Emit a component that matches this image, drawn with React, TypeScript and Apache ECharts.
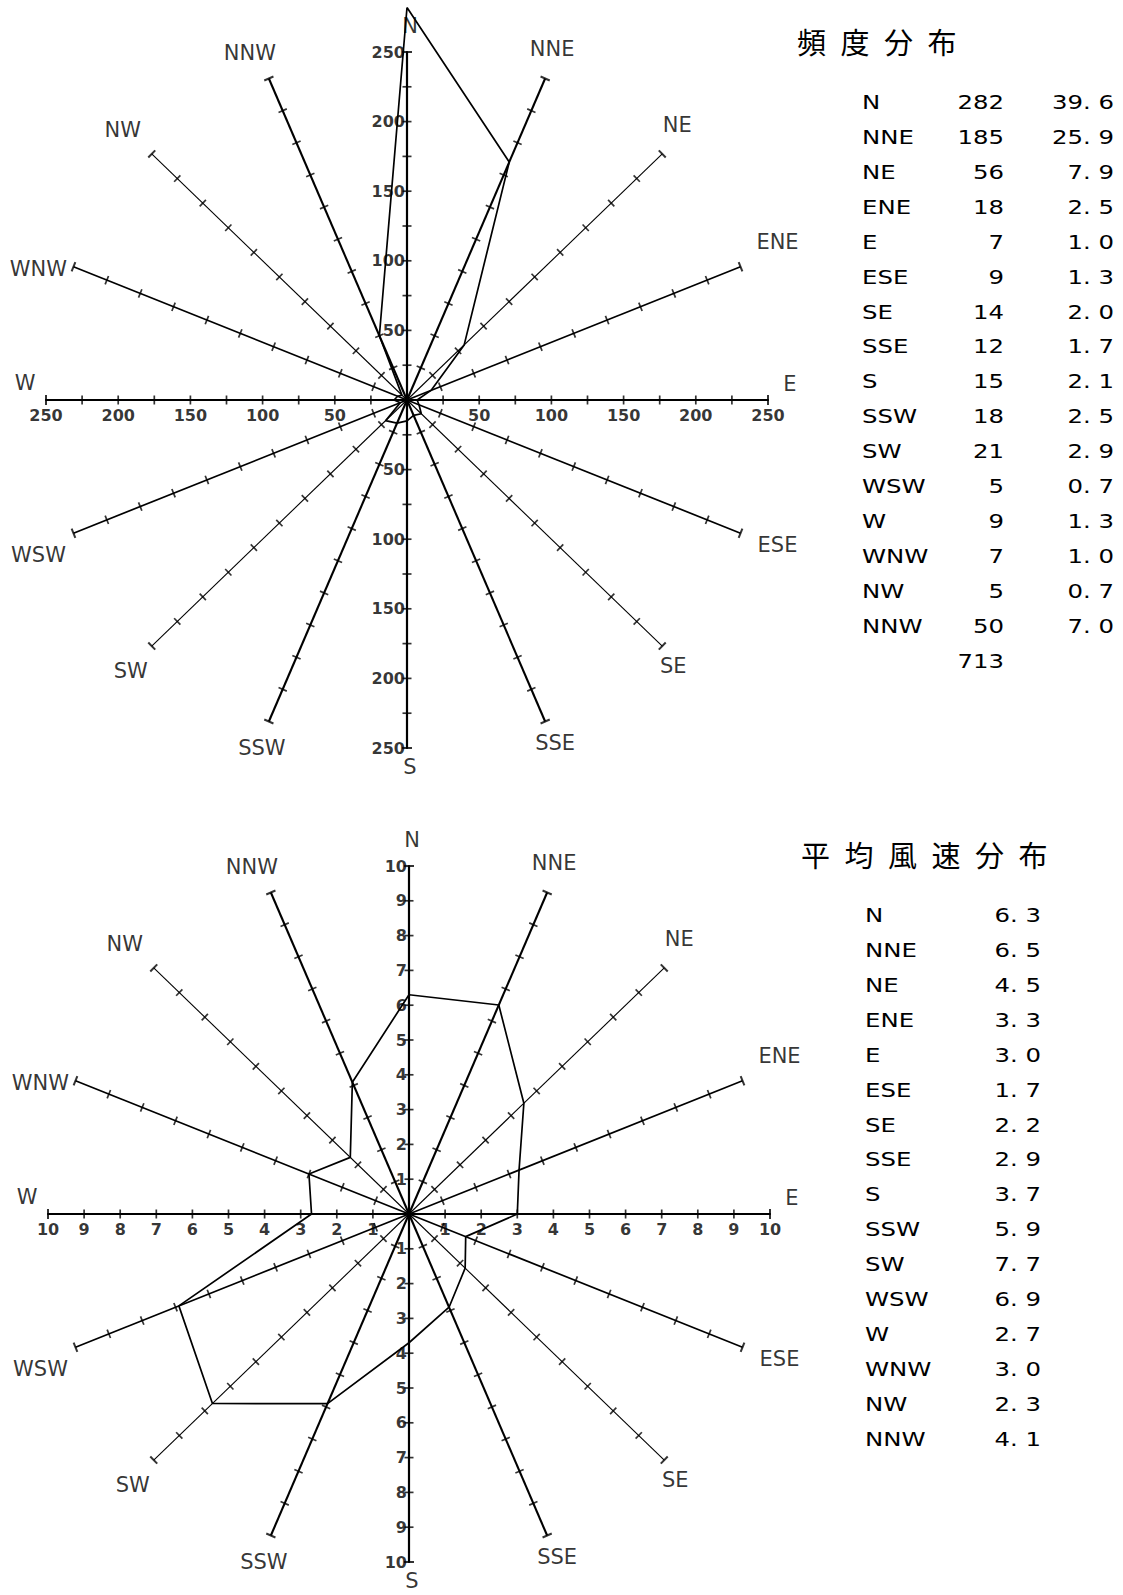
import React, { useEffect, useRef } from 'react';
import * as echarts from 'echarts';

// ---------- data ----------
const DIRS = ['N', 'NNE', 'NE', 'ENE', 'E', 'ESE', 'SE', 'SSE', 'S', 'SSW', 'SW', 'WSW', 'W', 'WNW', 'NW', 'NNW'];
const FREQ = [282, 185, 56, 18, 7, 9, 14, 12, 15, 18, 21, 5, 9, 7, 5, 50];
const FREQ_PCT = [39.6, 25.9, 7.9, 2.5, 1.0, 1.3, 2.0, 1.7, 2.1, 2.5, 2.9, 0.7, 1.3, 1.0, 0.7, 7.0];
const FREQ_TOTAL = 713;
const SPEED = [6.3, 6.5, 4.5, 3.3, 3.0, 1.7, 2.2, 2.9, 3.7, 5.9, 7.7, 6.9, 2.7, 3.0, 2.3, 4.1];

const FREQ_MAX = 250;
const FREQ_TICK = 25;
const FREQ_LABELS = [50, 100, 150, 200, 250];
const SPEED_MAX = 10;
const SPEED_TICK = 1;
const SPEED_LABELS = [1, 2, 3, 4, 5, 6, 7, 8, 9, 10];

const TITLE_FREQ = '頻度分布';
const TITLE_SPEED = '平均風速分布';

// ---------- layout / style ----------
const W = 1123;
const H = 1595;
const GRIDS = [
  { left: 46, top: 52, width: 722, height: 696 },
  { left: 48, top: 866, width: 722, height: 696 },
];
// label offsets (px) from each spoke end
const LABEL_OFFSETS: [number, number][] = [
  [3, -26], [7, -29], [15, -29], [37, -25], [22, -16], [37, 12], [11, 20], [10, 21],
  [3, 19], [-7, 26], [-21, 25], [-35, 22], [-21, -17], [-35, 2], [-29, -24], [-19, -25],
];
const NUM_FONT = 'DejaVu Sans';
const TXT_FONT = 'DejaVu Sans';
const CJK_FONT = '"Noto Sans CJK JP"';
const TABLE_SIZE = 20;
const TABLE_STRETCH = 1.22;

function toXY(val: number, i: number): [number, number] {
  const a = (i * 22.5 * Math.PI) / 180;
  return [val * Math.sin(a), val * Math.cos(a)];
}

function spokeWidth(i: number) {
  if (i === 1 || i === 7 || i === 9 || i === 15) return 2.1;
  if (i % 2 === 1) return 1.7;
  return 1.1;
}

function buildChart(k: number, values: number[], max: number, step: number, labels: number[]) {
  const g = GRIDS[k];
  const pxX = g.width / (2 * max);
  const pxY = g.height / (2 * max);
  const series: any[] = [];

  // spokes (diagonals); main axes are the axis lines
  DIRS.forEach((_, i) => {
    if (i % 4 === 0) return;
    series.push({
      type: 'line',
      xAxisIndex: k,
      yAxisIndex: k,
      data: [[0, 0], toXY(max, i)],
      symbol: 'none',
      silent: true,
      clip: false,
      lineStyle: { color: '#000', width: spokeWidth(i) },
      z: 2,
    });
  });

  // tick marks across every spoke
  const ticks: any[] = [];
  DIRS.forEach((_, i) => {
    const a = (i * 22.5 * Math.PI) / 180;
    const phi = Math.atan2(Math.sin(a) * pxX, Math.cos(a) * pxY);
    const rot = (-phi * 180) / Math.PI;
    for (let v = step; v <= max + 1e-9; v += step) {
      const isEnd = Math.abs(v - max) < 1e-9;
      ticks.push({
        value: toXY(v, i),
        symbolRotate: rot,
        symbolSize: isEnd ? [10, 2] : [9, 1.7],
      });
    }
  });
  series.push({
    type: 'scatter',
    xAxisIndex: k,
    yAxisIndex: k,
    data: ticks,
    symbol: 'rect',
    silent: true,
    clip: false,
    itemStyle: { color: '#000' },
    z: 3,
  });

  // data polygon
  const poly = values.map((v, i) => toXY(v, i));
  poly.push(poly[0]);
  series.push({
    type: 'line',
    xAxisIndex: k,
    yAxisIndex: k,
    data: poly,
    symbol: 'none',
    clip: false,
    silent: true,
    lineStyle: { color: '#000', width: 1.7 },
    z: 4,
  });

  // direction labels
  series.push({
    type: 'scatter',
    xAxisIndex: k,
    yAxisIndex: k,
    data: DIRS.map((d, i) => ({ name: d, value: toXY(max, i), label: { offset: LABEL_OFFSETS[i] } })),
    symbolSize: 0.1,
    clip: false,
    silent: true,
    itemStyle: { color: 'transparent' },
    label: {
      show: true,
      position: 'inside',
      formatter: '{b}',
      color: '#000',
      fontFamily: TXT_FONT,
      fontSize: 21,
      lineHeight: 22,
    },
    z: 5,
  });

  const numLabel = {
    show: true,
    formatter: '{b}',
    color: '#000',
    fontFamily: NUM_FONT,
    fontWeight: 'bold',
    fontSize: 16,
  };
  // scale numbers along the W-E axis (below the line)
  const hData: any[] = [];
  labels.forEach((v) => {
    hData.push({ name: String(v), value: [-v, 0] });
    hData.push({ name: String(v), value: [v, 0] });
  });
  series.push({
    type: 'scatter',
    xAxisIndex: k,
    yAxisIndex: k,
    data: hData,
    symbolSize: 0.1,
    clip: false,
    silent: true,
    itemStyle: { color: 'transparent' },
    label: { ...numLabel, position: 'inside', offset: [0, 15] },
    z: 5,
  });
  // scale numbers along the N-S axis (left of the line)
  const vData: any[] = [];
  labels.forEach((v) => {
    vData.push({ name: String(v), value: [0, v] });
    vData.push({ name: String(v), value: [0, -v] });
  });
  series.push({
    type: 'scatter',
    xAxisIndex: k,
    yAxisIndex: k,
    data: vData,
    symbolSize: 0.1,
    clip: false,
    silent: true,
    itemStyle: { color: 'transparent' },
    label: { ...numLabel, position: 'left', distance: 2 },
    z: 5,
  });

  const axisBase = {
    gridIndex: k,
    type: 'value',
    min: -max,
    max: max,
    interval: step,
    axisLine: { show: true, onZero: true, lineStyle: { color: '#000', width: 2.2 } },
    axisTick: { show: false },
    axisLabel: { show: false },
    splitLine: { show: false },
  };

  return { series, xAxis: { ...axisBase }, yAxis: { ...axisBase } };
}

function txt(text: string, x: number, y: number, align: string, size: number, family: string, stretch = 1) {
  return {
    type: 'text',
    x,
    y,
    scaleX: stretch,
    silent: true,
    style: {
      text,
      fill: '#000',
      fontSize: size,
      fontFamily: family,
      align,
      verticalAlign: 'middle',
      textAlign: align,
      textVerticalAlign: 'middle',
    },
  };
}

const fmt1 = (v: number) => v.toFixed(1).replace('.', '. ');

export default function App() {
  const ref = useRef<HTMLDivElement>(null);
  useEffect(() => {
    if (!ref.current) return;
    const chart = echarts.init(ref.current, undefined, { renderer: 'svg', width: W, height: H });
    const c1 = buildChart(0, FREQ, FREQ_MAX, FREQ_TICK, FREQ_LABELS);
    const c2 = buildChart(1, SPEED, SPEED_MAX, SPEED_TICK, SPEED_LABELS);

    const graphic: any[] = [];
    const SP = '\u2002';
    graphic.push(txt(TITLE_FREQ.split('').join(SP), 797, 41, 'left', 29, CJK_FONT));
    graphic.push(txt(TITLE_SPEED.split('').join(SP), 801, 854, 'left', 29, CJK_FONT));

    const rowH = 34.9;
    const S = TABLE_STRETCH;
    DIRS.forEach((d, i) => {
      const y1 = 102 + i * rowH;
      graphic.push(txt(d, 862, y1, 'left', TABLE_SIZE, TXT_FONT, S));
      graphic.push(txt(String(FREQ[i]), 1004, y1, 'right', TABLE_SIZE, TXT_FONT, S));
      graphic.push(txt(fmt1(FREQ_PCT[i]), 1114, y1, 'right', TABLE_SIZE, TXT_FONT, S));
      const y2 = 915 + i * rowH;
      graphic.push(txt(d, 865, y2, 'left', TABLE_SIZE, TXT_FONT, S));
      graphic.push(txt(fmt1(SPEED[i]), 1041, y2, 'right', TABLE_SIZE, TXT_FONT, S));
    });
    graphic.push(txt(String(FREQ_TOTAL), 1004, 102 + 16 * rowH, 'right', TABLE_SIZE, TXT_FONT, S));

    chart.setOption({
      animation: false,
      backgroundColor: '#fff',
      grid: GRIDS.map((g) => ({ ...g, containLabel: false, show: false })),
      xAxis: [c1.xAxis, c2.xAxis],
      yAxis: [c1.yAxis, c2.yAxis],
      series: [...c1.series, ...c2.series],
      graphic,
    });
    return () => chart.dispose();
  }, []);
  return (
    <div
      ref={ref}
      style={{ position: 'absolute', left: 0, top: 0, width: W, height: H, background: '#fff' }}
    />
  );
}
